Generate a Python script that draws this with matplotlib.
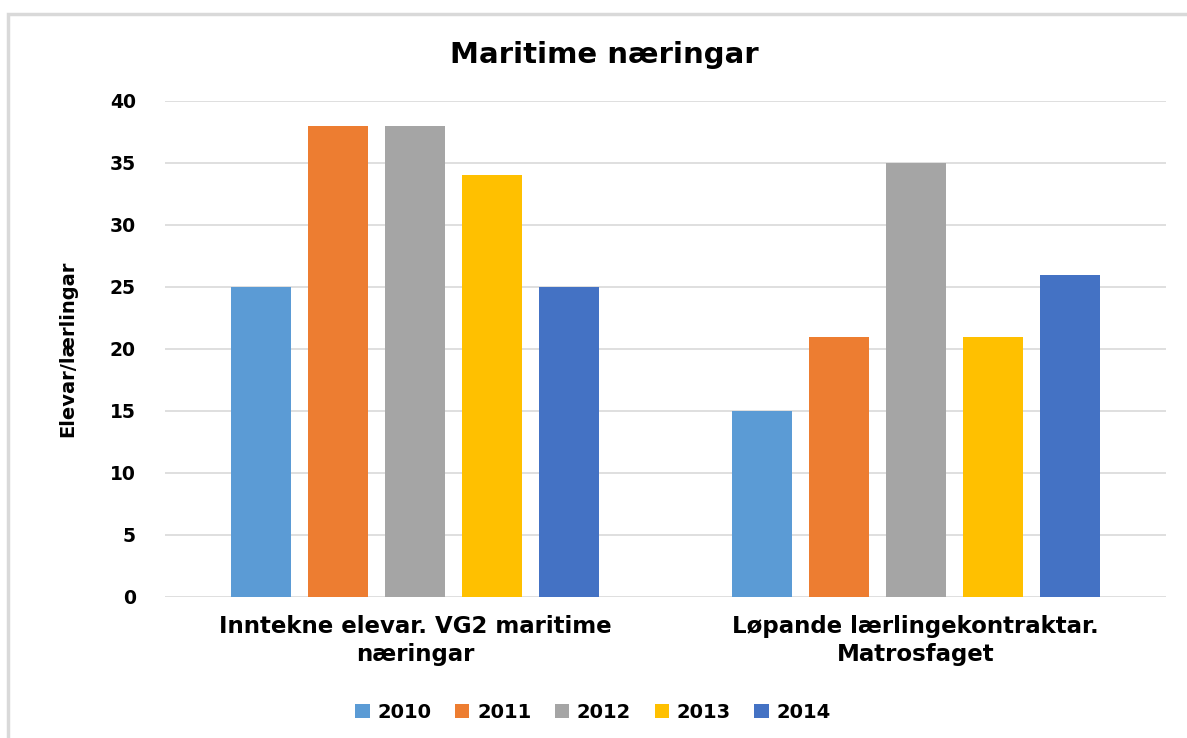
import numpy as np
import matplotlib.pyplot as plt
from matplotlib.patches import Rectangle

categories = ['Inntekne elevar. VG2 maritime\nnæringar', 'Løpande lærlingekontraktar.\nMatrosfaget']
years = ['2010', '2011', '2012', '2013', '2014']
v2010 = [25, 15]
v2011 = [38, 21]
v2012 = [38, 35]
v2013 = [34, 21]
v2014 = [25, 26]
colors = ['#5B9BD5', '#ED7D31', '#A5A5A5', '#FFC000', '#4472C4']

plt.rc('font', family=['DejaVu Sans'])

fig = plt.figure(figsize=(11.87, 7.38), dpi=100)
ax = fig.add_axes([165/1187, 1-597/738, 1001/1187, 496/738])

x = np.arange(len(categories))
step = 0.154
width = 0.12
for i, (yr, vals) in enumerate(zip(years, [v2010, v2011, v2012, v2013, v2014])):
    ax.bar(x + (i-2)*step, vals, width, color=colors[i], label=yr, zorder=2)

ax.set_xlim(-0.5, 1.5)
ax.set_ylim(0, 40)
ax.set_yticks(range(0, 41, 5))
ax.grid(axis='y', color='#D9D9D9', lw=1.2, zorder=0)
for s in ax.spines.values():
    s.set_visible(False)
ax.tick_params(axis='both', length=0)
ax.tick_params(axis='y', pad=21, labelsize=13.5)
for t in ax.get_yticklabels():
    t.set_fontweight('bold')
ax.set_xticks(x)
ax.set_xticklabels(categories, fontsize=16.5, fontweight='bold', linespacing=1.3)
ax.tick_params(axis='x', pad=13)

ax.set_ylabel('Elevar/lærlingar', fontsize=14, fontweight='bold',
              family=['Liberation Sans Narrow', 'DejaVu Sans'])
ax.yaxis.set_label_coords(-88/1001, 0.5)

fig.text(604/1187, 1-55/738, 'Maritime næringar', ha='center', va='center',
         fontsize=21, fontweight='bold')

leg = fig.legend(loc='center', bbox_to_anchor=(593/1187, 1-712/738), ncol=5,
                 frameon=False, prop={'weight': 'bold', 'size': 14},
                 handlelength=0.75, handleheight=0.75, handletextpad=0.4, columnspacing=1.2)

fig.patches.append(Rectangle((8/1187, -0.05), 1.2, 1-14/738+0.05, transform=fig.transFigure,
                             fill=False, edgecolor='#D9D9D9', lw=2.5))

plt.savefig('out.png', dpi=100)
plt.close()
